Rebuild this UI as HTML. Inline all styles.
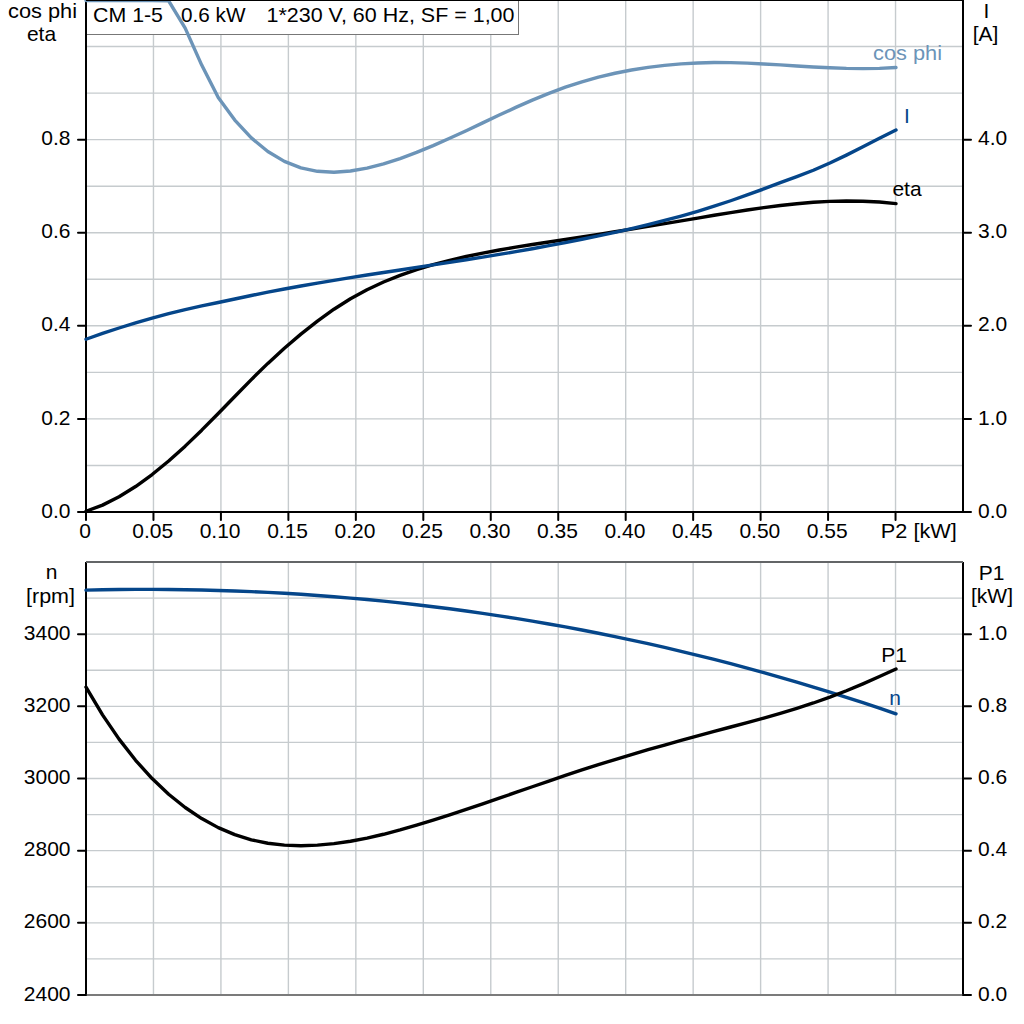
<!DOCTYPE html><html><head><meta charset="utf-8"><style>html,body{margin:0;padding:0;background:#fff;width:1024px;height:1024px;overflow:hidden}svg{display:block}text{font-family:"Liberation Sans",sans-serif;font-size:21px;fill:#000}</style></head><body>
<svg width="1024" height="1024" viewBox="0 0 1024 1024">
<rect width="1024" height="1024" fill="#fff"/>
<path d="M153.462,0V512M220.923,0V512M288.385,0V512M355.846,0V512M423.308,0V512M490.769,0V512M558.231,0V512M625.692,0V512M693.154,0V512M760.615,0V512M828.077,0V512M895.538,0V512M86,465.455H963M86,418.909H963M86,372.364H963M86,325.818H963M86,279.273H963M86,232.727H963M86,186.182H963M86,139.636H963M86,93.091H963M86,46.545H963M153.462,562V995M220.923,562V995M288.385,562V995M355.846,562V995M423.308,562V995M490.769,562V995M558.231,562V995M625.692,562V995M693.154,562V995M760.615,562V995M828.077,562V995M895.538,562V995M86,598.083H963M86,634.167H963M86,670.250H963M86,706.333H963M86,742.417H963M86,778.500H963M86,814.583H963M86,850.667H963M86,886.750H963M86,922.833H963M86,958.917H963" stroke="#c6cbce" stroke-width="1.4" fill="none"/>
<rect x="86.5" y="0.5" width="432" height="34" fill="#fff" stroke="#777" stroke-width="1"/>
<text x="93" y="22" textLength="70" lengthAdjust="spacingAndGlyphs">CM 1-5</text>
<text x="181" y="22" textLength="64.5" lengthAdjust="spacingAndGlyphs">0.6 kW</text>
<text x="266.5" y="22" textLength="248" lengthAdjust="spacingAndGlyphs">1*230 V, 60 Hz, SF = 1,00</text>
<path d="M86,0V513M963,0V513M85,512H964M86,562V995M963,562V995" stroke="#000" stroke-width="2" fill="none"/>
<path d="M86,562H963" stroke="#636567" stroke-width="2" fill="none"/>
<path d="M86,995H963" stroke="#7b7b7b" stroke-width="2" fill="none"/>
<path d="M78,512.000H86M963,512.000H971M78,418.909H86M963,418.909H971M78,325.818H86M963,325.818H971M78,232.727H86M963,232.727H971M78,139.636H86M963,139.636H971M86.000,512V520M153.462,512V520M220.923,512V520M288.385,512V520M355.846,512V520M423.308,512V520M490.769,512V520M558.231,512V520M625.692,512V520M693.154,512V520M760.615,512V520M828.077,512V520M895.538,512V520M78,995.000H86M963,995.000H971M78,922.833H86M963,922.833H971M78,850.667H86M963,850.667H971M78,778.500H86M963,778.500H971M78,706.333H86M963,706.333H971M78,634.167H86M963,634.167H971" stroke="#000" stroke-width="2" stroke-linecap="round" fill="none"/>
<text x="70.5" y="518" text-anchor="end">0.0</text>
<text x="70.5" y="425" text-anchor="end">0.2</text>
<text x="70.5" y="331" text-anchor="end">0.4</text>
<text x="70.5" y="238" text-anchor="end">0.6</text>
<text x="70.5" y="145" text-anchor="end">0.8</text>
<text x="978" y="518">0.0</text>
<text x="978" y="425">1.0</text>
<text x="978" y="331">2.0</text>
<text x="978" y="238">3.0</text>
<text x="978" y="145">4.0</text>
<text x="85.20" y="538" text-anchor="middle">0</text>
<text x="152.66" y="538" text-anchor="middle">0.05</text>
<text x="220.12" y="538" text-anchor="middle">0.10</text>
<text x="287.58" y="538" text-anchor="middle">0.15</text>
<text x="355.05" y="538" text-anchor="middle">0.20</text>
<text x="422.51" y="538" text-anchor="middle">0.25</text>
<text x="489.97" y="538" text-anchor="middle">0.30</text>
<text x="557.43" y="538" text-anchor="middle">0.35</text>
<text x="624.89" y="538" text-anchor="middle">0.40</text>
<text x="692.35" y="538" text-anchor="middle">0.45</text>
<text x="759.82" y="538" text-anchor="middle">0.50</text>
<text x="827.28" y="538" text-anchor="middle">0.55</text>
<text x="880.8" y="538" textLength="76" lengthAdjust="spacingAndGlyphs">P2 [kW]</text>
<text x="42.5" y="18" text-anchor="middle" textLength="69" lengthAdjust="spacingAndGlyphs">cos phi</text>
<text x="41.5" y="41" text-anchor="middle">eta</text>
<text x="986.5" y="18" text-anchor="middle">I</text>
<text x="985.5" y="41" text-anchor="middle">[A]</text>
<text x="70.5" y="1001" text-anchor="end">2400</text>
<text x="70.5" y="928" text-anchor="end">2600</text>
<text x="70.5" y="856" text-anchor="end">2800</text>
<text x="70.5" y="784" text-anchor="end">3000</text>
<text x="70.5" y="712" text-anchor="end">3200</text>
<text x="70.5" y="640" text-anchor="end">3400</text>
<text x="978" y="1001">0.0</text>
<text x="978" y="928">0.2</text>
<text x="978" y="856">0.4</text>
<text x="978" y="784">0.6</text>
<text x="978" y="712">0.8</text>
<text x="978" y="640">1.0</text>
<text x="51.5" y="578.5" text-anchor="middle">n</text>
<text x="50.5" y="602.5" text-anchor="middle" textLength="49" lengthAdjust="spacingAndGlyphs">[rpm]</text>
<text x="991.5" y="579.5" text-anchor="middle">P1</text>
<text x="992" y="602.5" text-anchor="middle">[kW]</text>
<g fill="none" stroke-width="3.4" stroke-linecap="round" stroke-linejoin="round">
<path d="M86.00,0.50 L102.53,0.50 L119.06,0.50 L135.59,0.50 L152.12,0.50 L168.65,0.80 L185.18,28.10 L201.71,65.10 L218.24,97.60 L234.78,120.04 L251.31,137.87 L267.84,151.50 L284.37,161.34 L300.90,167.81 L317.43,171.31 L333.96,172.25 L350.49,171.04 L367.02,168.10 L383.55,163.84 L400.08,158.55 L416.61,152.42 L433.14,145.62 L449.67,138.31 L466.20,130.67 L482.73,122.86 L499.27,115.05 L515.80,107.41 L532.33,100.11 L548.86,93.32 L565.39,87.20 L581.92,81.84 L598.45,77.20 L614.98,73.26 L631.51,69.99 L648.04,67.35 L664.57,65.32 L681.10,63.87 L697.63,62.96 L714.16,62.57 L730.69,62.66 L747.22,63.15 L763.76,63.93 L780.29,64.90 L796.82,65.94 L813.35,66.94 L829.88,67.79 L846.41,68.39 L862.94,68.61 L879.47,68.36 L896.00,67.52" stroke="#6c94b8"/>
<path d="M86.00,511.27 L102.53,505.12 L119.06,496.81 L135.59,486.55 L152.12,474.55 L168.65,461.01 L185.18,446.14 L201.71,430.17 L218.24,413.45 L234.78,396.45 L251.31,379.61 L267.84,363.38 L284.37,348.19 L300.90,334.15 L317.43,321.16 L333.96,309.24 L350.49,298.73 L367.02,289.71 L383.55,281.99 L400.08,275.38 L416.61,269.69 L433.14,264.71 L449.67,260.34 L466.20,256.47 L482.73,253.04 L499.27,249.96 L515.80,247.14 L532.33,244.51 L548.86,241.99 L565.39,239.50 L581.92,236.97 L598.45,234.38 L614.98,231.74 L631.51,229.07 L648.04,226.35 L664.57,223.61 L681.10,220.84 L697.63,218.06 L714.16,215.27 L730.69,212.56 L747.22,209.98 L763.76,207.60 L780.29,205.49 L796.82,203.70 L813.35,202.31 L829.88,201.39 L846.41,200.99 L862.94,201.18 L879.47,202.04 L896.00,203.62" stroke="#000"/>
<path d="M86.00,339.26 L102.53,333.47 L119.06,327.99 L135.59,322.84 L152.12,318.04 L168.65,313.61 L185.18,309.58 L201.71,305.94 L218.24,302.50 L234.78,299.01 L251.31,295.52 L267.84,292.16 L284.37,288.99 L300.90,285.97 L317.43,283.08 L333.96,280.31 L350.49,277.63 L367.02,275.02 L383.55,272.47 L400.08,269.95 L416.61,267.44 L433.14,264.93 L449.67,262.39 L466.20,259.80 L482.73,257.15 L499.27,254.43 L515.80,251.62 L532.33,248.71 L548.86,245.69 L565.39,242.56 L581.92,239.29 L598.45,235.87 L614.98,232.30 L631.51,228.57 L648.04,224.64 L664.57,220.47 L681.10,216.04 L697.63,211.28 L714.16,206.18 L730.69,200.74 L747.22,194.98 L763.76,188.91 L780.29,182.67 L796.82,176.62 L813.35,170.27 L829.88,163.05 L846.41,155.11 L862.94,146.76 L879.47,138.29 L896.00,130.00" stroke="#05468a"/>
<path d="M86.00,590.14 L102.53,589.79 L119.06,589.54 L135.59,589.41 L152.12,589.39 L168.65,589.48 L185.18,589.68 L201.71,590.00 L218.24,590.43 L234.78,590.98 L251.31,591.64 L267.84,592.42 L284.37,593.31 L300.90,594.32 L317.43,595.45 L333.96,596.70 L350.49,598.07 L367.02,599.55 L383.55,601.16 L400.08,602.89 L416.61,604.73 L433.14,606.70 L449.67,608.80 L466.20,611.01 L482.73,613.35 L499.27,615.82 L515.80,618.40 L532.33,621.12 L548.86,623.96 L565.39,626.92 L581.92,630.02 L598.45,633.24 L614.98,636.59 L631.51,640.07 L648.04,643.68 L664.57,647.42 L681.10,651.29 L697.63,655.29 L714.16,659.42 L730.69,663.69 L747.22,668.09 L763.76,672.62 L780.29,677.29 L796.82,682.09 L813.35,687.03 L829.88,692.10 L846.41,697.31 L862.94,702.66 L879.47,708.15 L896.00,713.77" stroke="#05468a"/>
<path d="M86.00,687.16 L102.53,714.86 L119.06,739.16 L135.59,760.31 L152.12,778.58 L168.65,794.22 L185.18,807.50 L201.71,818.60 L218.24,827.63 L234.78,834.68 L251.31,839.83 L267.84,843.26 L284.37,845.16 L300.90,845.72 L317.43,845.16 L333.96,843.62 L350.49,841.22 L367.02,838.06 L383.55,834.27 L400.08,829.95 L416.61,825.22 L433.14,820.18 L449.67,814.92 L466.20,809.47 L482.73,803.89 L499.27,798.20 L515.80,792.47 L532.33,786.74 L548.86,781.05 L565.39,775.44 L581.92,769.96 L598.45,764.65 L614.98,759.53 L631.51,754.56 L648.04,749.74 L664.57,745.04 L681.10,740.43 L697.63,735.90 L714.16,731.43 L730.69,726.99 L747.22,722.55 L763.76,718.03 L780.29,713.32 L796.82,708.34 L813.35,702.98 L829.88,697.15 L846.41,690.77 L862.94,683.87 L879.47,676.56 L896.00,668.96" stroke="#000"/>
</g>
<path d="M86,0.5H963" stroke="#000" stroke-width="1"/>
<text x="907.5" y="59.5" text-anchor="middle" textLength="69" lengthAdjust="spacingAndGlyphs" style="fill:#6c94b8">cos phi</text>
<text x="907" y="123" text-anchor="middle" style="fill:#05468a">I</text>
<text x="907" y="196" text-anchor="middle">eta</text>
<text x="894" y="662" text-anchor="middle">P1</text>
<text x="895" y="704.5" text-anchor="middle" style="fill:#05468a">n</text>
</svg></body></html>
